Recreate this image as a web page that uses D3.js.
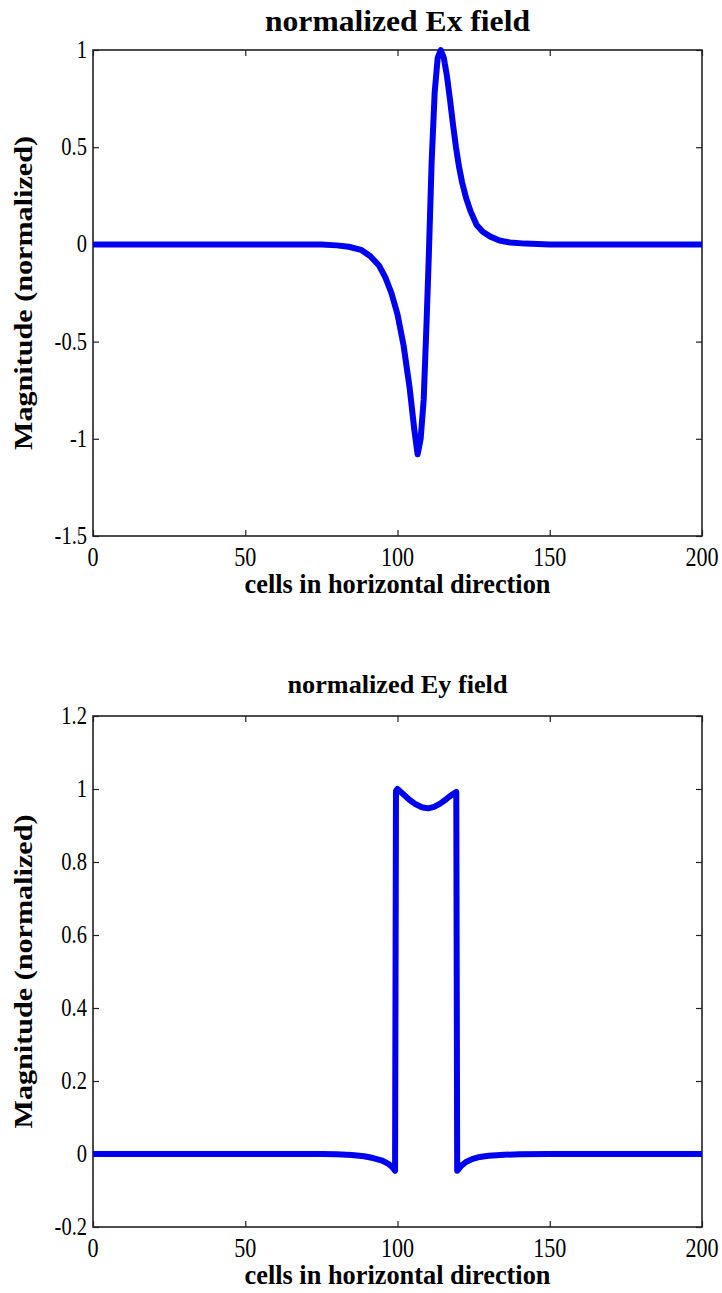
<!DOCTYPE html>
<html>
<head>
<meta charset="utf-8">
<script src="https://cdn.jsdelivr.net/npm/d3@7"></script>
<style>
  html, body { margin: 0; padding: 0; background: #fff; }
  svg { display: block; }
  text { font-family: "Liberation Serif", "Times New Roman", serif; fill: #000; }
</style>
</head>
<body>
<svg id="fig" width="722" height="1293"></svg>
<script>
// Horizontal cell index shared by both panels
const xDomain = [0, 200];
const xTicks = [0, 50, 100, 150, 200];

// Normalized Ex field: cell positions and magnitudes
const exCells = [0, 20, 40, 60, 75, 80, 84, 88, 91, 94, 96, 98, 100, 102, 104, 105.5, 106.6, 107.6, 108.6, 109.5, 110.3, 111.2, 112.2, 113.2, 114.2, 115.2, 116.2, 117.2, 118.2, 119.2, 120.2, 121.2, 122.5, 124, 126, 128, 130.5, 133.5, 137, 142, 150, 170, 200];
const exValues = [0, 0, 0, 0, 0, -0.005, -0.012, -0.028, -0.06, -0.11, -0.17, -0.25, -0.36, -0.52, -0.74, -0.95, -1.08, -1.0, -0.8, -0.42, -0.05, 0.42, 0.78, 0.96, 1.0, 0.96, 0.87, 0.75, 0.62, 0.5, 0.4, 0.32, 0.24, 0.17, 0.1, 0.065, 0.04, 0.02, 0.01, 0.004, 0, 0, 0];
const exYDomain = [-1.5, 1];
const exYTicks = [-1.5, -1, -0.5, 0, 0.5, 1];

// Normalized Ey field: cell positions and magnitudes
const eyCells = [0, 20, 40, 60, 75, 80, 85, 89, 92, 95, 97, 98.5, 99.2, 99.5, 100, 102, 104, 106, 108, 110, 112, 114, 116, 118, 119.3, 119.6, 120, 121, 122.5, 124.5, 127, 130, 135, 140, 150, 170, 200];
const eyValues = [0, 0, 0, 0, 0, -0.001, -0.003, -0.006, -0.011, -0.018, -0.027, -0.038, -0.046, 0.995, 1.0, 0.985, 0.97, 0.958, 0.95, 0.947, 0.951, 0.96, 0.972, 0.985, 0.992, -0.046, -0.042, -0.032, -0.022, -0.014, -0.008, -0.005, -0.002, -0.001, 0, 0, 0];
const eyYDomain = [-0.2, 1.2];
const eyYTicks = [-0.2, 0, 0.2, 0.4, 0.6, 0.8, 1, 1.2];

const svg = d3.select("#fig");
const fmt = d => String(d);

function panel(cfg) {
  const { left, right, top, bottom } = cfg;
  const x = d3.scaleLinear().domain(xDomain).range([left, right]);
  const y = d3.scaleLinear().domain(cfg.yDomain).range([bottom, top]);
  const g = svg.append("g");

  // box
  g.append("rect")
    .attr("x", left).attr("y", top)
    .attr("width", right - left).attr("height", bottom - top)
    .attr("fill", "none").attr("stroke", "#222").attr("stroke-width", 1.6);

  const tickLen = 6;
  // inward ticks on all four sides
  const xAxisB = d3.axisBottom(x).tickValues(xTicks).tickSize(-tickLen).tickFormat("");
  const xAxisT = d3.axisTop(x).tickValues(xTicks).tickSize(-tickLen).tickFormat("");
  const yAxisL = d3.axisLeft(y).tickValues(cfg.yTicks).tickSize(-tickLen).tickFormat("");
  const yAxisR = d3.axisRight(y).tickValues(cfg.yTicks).tickSize(-tickLen).tickFormat("");
  [[xAxisB, `translate(0,${bottom})`], [xAxisT, `translate(0,${top})`],
   [yAxisL, `translate(${left},0)`], [yAxisR, `translate(${right},0)`]].forEach(([ax, tr]) => {
    const a = g.append("g").attr("transform", tr).call(ax);
    a.select(".domain").remove();
    a.selectAll("line").attr("stroke", "#222").attr("stroke-width", 1.2);
  });

  // tick labels (tall, narrow serif digits)
  g.append("g").selectAll("text").data(xTicks).join("text")
    .attr("transform", d => `translate(${x(d)},${bottom + 30}) scale(0.82,1)`)
    .attr("text-anchor", "middle")
    .attr("font-size", 27)
    .text(fmt);
  g.append("g").selectAll("text").data(cfg.yTicks).join("text")
    .attr("transform", d => `translate(${left - 6},${y(d) + 8}) scale(0.82,1)`)
    .attr("text-anchor", "end")
    .attr("font-size", 25)
    .text(fmt);

  // series
  const line = d3.line().x(d => x(d[0])).y(d => y(d[1]));
  g.append("path")
    .datum(d3.zip(cfg.cells, cfg.values))
    .attr("d", line)
    .attr("fill", "none")
    .attr("stroke", "#0000f0")
    .attr("stroke-width", 6)
    .attr("stroke-linejoin", "round");

  // title
  g.append("text")
    .attr("x", (left + right) / 2).attr("y", cfg.titleY)
    .attr("text-anchor", "middle")
    .attr("font-weight", "bold").attr("font-size", cfg.titleSize)
    .attr("textLength", cfg.titleLen).attr("lengthAdjust", "spacingAndGlyphs")
    .text(cfg.title);

  // x label
  g.append("text")
    .attr("x", (left + right) / 2).attr("y", bottom + 57)
    .attr("text-anchor", "middle")
    .attr("font-weight", "bold").attr("font-size", 27)
    .attr("textLength", 306).attr("lengthAdjust", "spacingAndGlyphs")
    .text("cells in horizontal direction");

  // y label
  const cy = (top + bottom) / 2;
  g.append("text")
    .attr("transform", `translate(32,${cy}) rotate(-90)`)
    .attr("text-anchor", "middle")
    .attr("font-weight", "bold").attr("font-size", 26)
    .attr("textLength", 314).attr("lengthAdjust", "spacingAndGlyphs")
    .text("Magnitude (normalized)");
}

panel({
  left: 93, right: 702, top: 50, bottom: 536,
  yDomain: exYDomain, yTicks: exYTicks,
  cells: exCells, values: exValues,
  title: "normalized Ex field", titleY: 31, titleSize: 30, titleLen: 265
});

panel({
  left: 93, right: 702, top: 716, bottom: 1227,
  yDomain: eyYDomain, yTicks: eyYTicks,
  cells: eyCells, values: eyValues,
  title: "normalized Ey field", titleY: 693, titleSize: 25, titleLen: 220
});
</script>
</body>
</html>
